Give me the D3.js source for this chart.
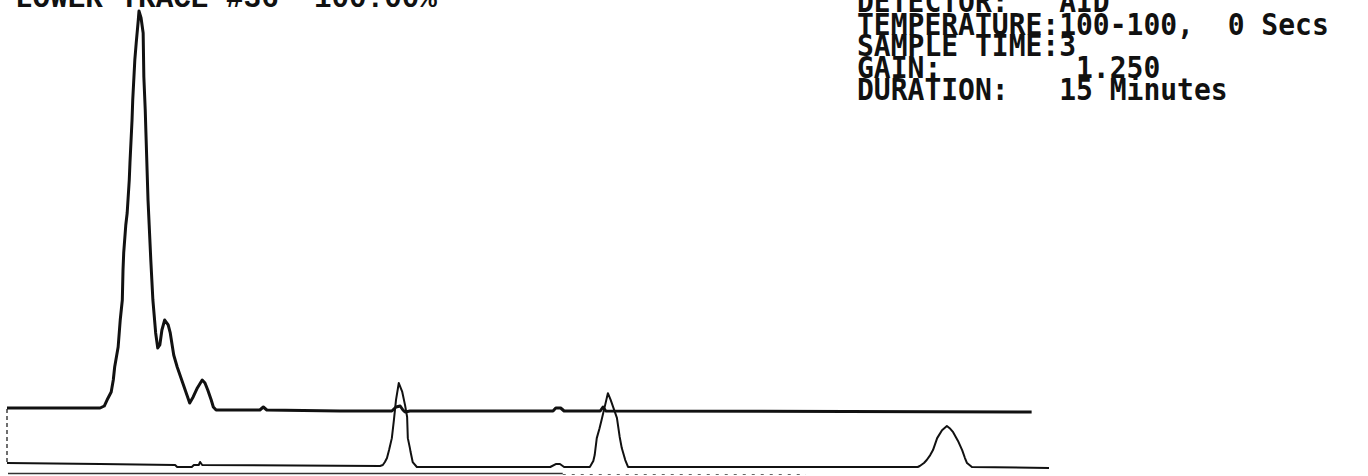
<!DOCTYPE html>
<html>
<head>
<meta charset="utf-8">
<script src="https://cdn.jsdelivr.net/npm/d3@7"></script>
<style>
  html, body { margin: 0; padding: 0; background: #fff; }
  svg { display: block; }
  text { white-space: pre; }
</style>
</head>
<body>
<svg id="chart" width="1368" height="476"></svg>
<script>
// ---- data (time in minutes, response in % of largest peak) ----
const titleText = "LOWER TRACE #36  100.00%";
const infoLines = [
  "DETECTOR:   AID",
  "TEMPERATURE:100-100,  0 Secs",
  "SAMPLE TIME:3",
  "GAIN:        1.250",
  "DURATION:   15 Minutes"
];

const upperTime = [0, 1.34, 1.40, 1.44, 1.50, 1.53, 1.55, 1.60, 1.63, 1.66, 1.67, 1.68, 1.71, 1.73, 1.76, 1.77, 1.80, 1.81, 1.84, 1.86, 1.89, 1.90, 1.93, 1.96, 1.97, 1.99, 2.00, 2.03, 2.07, 2.10, 2.14, 2.17, 2.20, 2.23, 2.27, 2.32, 2.35, 2.40, 2.45, 2.53, 2.59, 2.63, 2.68, 2.74, 2.81, 2.85, 2.89, 2.94, 2.97, 3.01, 3.64, 3.69, 3.74, 4.79, 5.54, 5.60, 5.66, 5.70, 5.73, 5.80, 7.86, 7.90, 7.97, 8.02, 8.54, 8.58, 8.62, 14.75];
const upperValue = [0.25, 0.25, 0.75, 2.26, 4.27, 7.29, 10.55, 15.58, 22.36, 27.39, 34.92, 39.20, 46.23, 49.25, 57.54, 61.81, 72.61, 77.64, 87.69, 91.96, 97.74, 100, 98.24, 94.47, 83.42, 75.13, 69.35, 52.51, 37.44, 27.39, 19.10, 15.33, 16.08, 19.85, 22.36, 21.11, 19.10, 13.57, 10.55, 6.53, 3.52, 1.51, 3.02, 5.28, 7.29, 6.53, 4.77, 2.26, 0.50, -0.25, -0.25, 0.5, -0.25, -0.5, -0.5, 0.5, 0.75, -0.25, -0.75, -0.5, -0.5, 0.25, 0.25, -0.5, -0.5, 0.5, -0.5, -0.75];

const lowerTime = [0, 1.34, 2.42, 2.45, 2.66, 2.69, 2.76, 2.78, 2.81, 5.37, 5.41, 5.44, 5.47, 5.50, 5.54, 5.57, 5.60, 5.64, 5.69, 5.73, 5.76, 5.77, 5.80, 5.81, 5.84, 5.90, 7.82, 7.90, 7.96, 8.02, 8.39, 8.44, 8.46, 8.49, 8.53, 8.56, 8.61, 8.65, 8.69, 8.74, 8.78, 8.82, 8.85, 8.90, 8.94, 13.11, 13.14, 13.20, 13.24, 13.29, 13.33, 13.39, 13.46, 13.53, 13.57, 13.62, 13.69, 13.75, 13.79, 13.82, 13.89, 15.0];
const lowerValue = [0.75, 0.5, 0.25, -0.25, -0.25, 0.25, 0.25, 1.0, 0.25, 0, 0.25, 1.0, 2.0, 4.0, 7.0, 11.6, 16.6, 20.85, 18.6, 15.3, 12.3, 7.0, 4.5, 3.5, 1.0, -0.25, -0.25, 0.5, 0.5, -0.25, -0.25, 1.25, 2.75, 7.0, 9.5, 11.6, 15.3, 18.3, 16.6, 14.1, 12.1, 7.3, 4.5, 1.5, -0.25, -0.25, 0, 0.75, 1.5, 2.75, 4.0, 7.0, 9.0, 10.05, 9.5, 8.5, 6.3, 4.0, 2.0, 0.75, -0.25, -0.5];

// ---- layout ----
const svg = d3.select("#chart");
svg.append("rect").attr("width", 1368).attr("height", 476).attr("fill", "#fff");

const x = d3.scaleLinear().domain([0, 15]).range([7, 1049]);
const yUpper = d3.scaleLinear().domain([0, 100]).range([409, 11]);
const yLower = d3.scaleLinear().domain([0, 100]).range([466, 68]);

const upper = upperTime.map((t, i) => [t, upperValue[i]]);
const lower = lowerTime.map((t, i) => [t, lowerValue[i]]);

const lineU = d3.line().x(d => x(d[0])).y(d => yUpper(d[1]));
const lineL = d3.line().x(d => x(d[0])).y(d => yLower(d[1]));

// bottom rule (faint plotter line)
svg.append("line")
  .attr("x1", x(0) + 1).attr("x2", x(8.0))
  .attr("y1", 473.5).attr("y2", 473.5)
  .attr("stroke", "#333").attr("stroke-width", 1.6);
svg.append("line")
  .attr("x1", x(8.0)).attr("x2", x(11.5))
  .attr("y1", 474.5).attr("y2", 474.5)
  .attr("stroke", "#666").attr("stroke-width", 1.2)
  .attr("stroke-dasharray", "3,6");

// left connector between traces
svg.append("line")
  .attr("x1", x(0)).attr("x2", x(0))
  .attr("y1", yUpper(0)).attr("y2", yLower(0.75))
  .attr("stroke", "#222").attr("stroke-width", 1.3)
  .attr("stroke-dasharray", "4,3");

svg.append("path").datum(lower)
  .attr("d", lineL)
  .attr("fill", "none").attr("stroke", "#111")
  .attr("stroke-width", 2).attr("stroke-linejoin", "round");

svg.append("path").datum(upper)
  .attr("d", lineU)
  .attr("fill", "none").attr("stroke", "#111")
  .attr("stroke-width", 3).attr("stroke-linejoin", "round");

// ---- text ----
svg.append("text")
  .attr("x", 15).attr("y", 7)
  .attr("font-family", "Liberation Mono, monospace")
  .attr("font-weight", "bold")
  .attr("font-size", 29.3)
  .attr("fill", "#111")
  .text(titleText);

const baselines = [12, 35, 56, 78, 100];
svg.selectAll("text.info").data(infoLines).enter().append("text")
  .attr("class", "info")
  .attr("transform", (d, i) => `translate(857,${baselines[i]}) scale(1,1.08)`)
  .attr("font-family", "DejaVu Sans Mono, monospace")
  .attr("font-weight", "bold")
  .attr("font-size", 28)
  .attr("fill", "#111")
  .text(d => d);
</script>
</body>
</html>
